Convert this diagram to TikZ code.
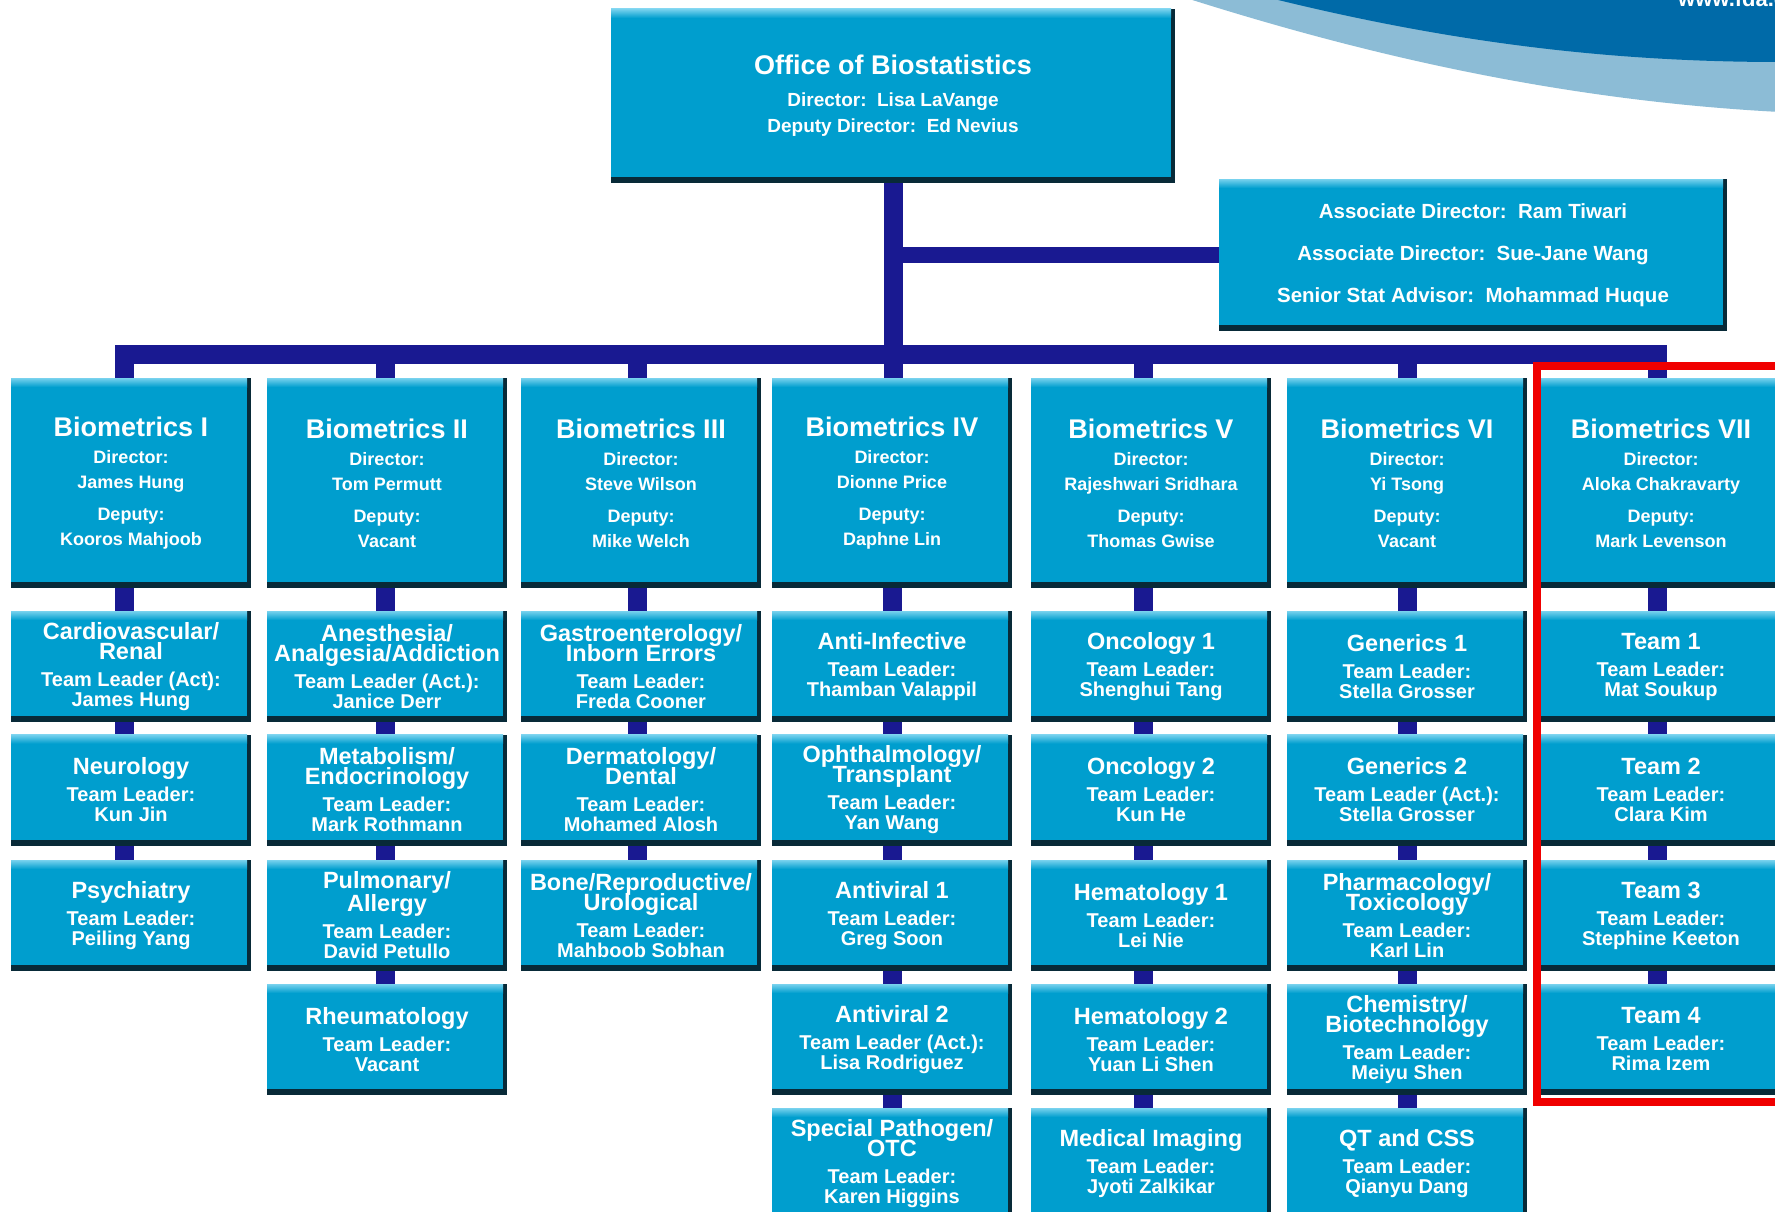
\documentclass[tikz,border=0pt]{standalone}
\usepackage{fontspec}
\setmainfont{Liberation Sans}
\usetikzlibrary{backgrounds}
\definecolor{boxblue}{RGB}{0,158,206}
\definecolor{boxlight}{RGB}{120,210,238}
\definecolor{boxdark}{RGB}{8,42,56}
\definecolor{connblue}{RGB}{25,25,145}
\definecolor{swdark}{RGB}{0,106,168}
\definecolor{swlight}{RGB}{140,188,214}
\definecolor{framered}{RGB}{240,0,0}
\lineskiplimit=-100pt
\newcommand\hdT[1]{{\fontsize{27}{27}\selectfont #1}}
\newcommand\hdS[1]{{\fontsize{23.5}{20}\selectfont #1}}
\tikzset{
  orgbox/.style={rectangle, inner sep=0pt, text=white, align=center, fill=boxdark,
    path picture={
      \fill[boxblue] (path picture bounding box.north west) rectangle ([xshift=-4pt,yshift=6pt]path picture bounding box.south east);
      \fill[top color=boxlight, bottom color=boxblue] (path picture bounding box.north west) rectangle ([xshift=-4pt,yshift=-9pt]path picture bounding box.north east);
    }},
  topbox/.style={orgbox, minimum width=564pt, minimum height=174pt, font=\bfseries\fontsize{19}{26}\selectfont},
  assocbox/.style={orgbox, minimum width=508pt, minimum height=152pt, font=\bfseries\fontsize{20.5}{42}\selectfont},
  biobox/.style={orgbox, minimum width=240pt, minimum height=210pt, font=\bfseries\fontsize{18}{25}\selectfont},
  subbox/.style={orgbox, minimum width=240pt, minimum height=111pt, font=\bfseries\fontsize{20}{20}\selectfont},
  conn/.style={draw=connblue, line width=19pt},
}
\begin{document}
\begin{tikzpicture}[x=1pt,y=-1pt]
\useasboundingbox (0,0) rectangle (1775,1212);

% top
\node[topbox] (top) at (893,96) {\hdT{Office of Biostatistics}\\[6pt] Director:\ \ Lisa LaVange\\ Deputy Director:\ \ Ed Nevius};
\node[assocbox] (assoc) at (1473,255) {Associate Director:\ \ Ram Tiwari\\ Associate Director:\ \ Sue-Jane Wang\\ Senior Stat Advisor:\ \ Mohammad Huque};

% divisions
\node[biobox] (b1) at (131,483) {\hdT{Biometrics I}\\[2pt] Director:\\ James Hung\\[7pt] Deputy:\\ Kooros Mahjoob};
\node[biobox] (b2) at (387,483) {\hdT{Biometrics II}\\[2pt] Director:\\ Tom Permutt\\[7pt] Deputy:\\ Vacant};
\node[biobox] (b3) at (641,483) {\hdT{Biometrics III}\\[2pt] Director:\\ Steve Wilson\\[7pt] Deputy:\\ Mike Welch};
\node[biobox] (b4) at (892,483) {\hdT{Biometrics IV}\\[2pt] Director:\\ Dionne Price\\[7pt] Deputy:\\ Daphne Lin};
\node[biobox] (b5) at (1151,483) {\hdT{Biometrics V}\\[2pt] Director:\\ Rajeshwari Sridhara\\[7pt] Deputy:\\ Thomas Gwise};
\node[biobox] (b6) at (1407,483) {\hdT{Biometrics VI}\\[2pt] Director:\\ Yi Tsong\\[7pt] Deputy:\\ Vacant};
\node[biobox] (b7) at (1661,483) {\hdT{Biometrics VII}\\[2pt] Director:\\ Aloka Chakravarty\\[7pt] Deputy:\\ Mark Levenson};

% column 1
\node[subbox] (s11) at (131,666.5) {\hdS{Cardiovascular/}\\ \hdS{Renal}\\[7pt] Team Leader (Act):\\ James Hung};
\node[subbox] (s12) at (131,790) {\hdS{Neurology}\\[7pt] Team Leader:\\ Kun Jin};
\node[subbox] (s13) at (131,915.5) {\hdS{Psychiatry}\\[7pt] Team Leader:\\ Peiling Yang};
% column 2
\node[subbox] (s21) at (387,666.5) {\hdS{Anesthesia/}\\ \hdS{Analgesia/Addiction}\\[7pt] Team Leader (Act.):\\ Janice Derr};
\node[subbox] (s22) at (387,790) {\hdS{Metabolism/}\\ \hdS{Endocrinology}\\[7pt] Team Leader:\\ Mark Rothmann};
\node[subbox] (s23) at (387,915.5) {\hdS{Pulmonary/}\\[3pt] \hdS{Allergy}\\[7pt] Team Leader:\\ David Petullo};
\node[subbox] (s24) at (387,1039.5) {\hdS{Rheumatology}\\[7pt] Team Leader:\\ Vacant};
% column 3
\node[subbox] (s31) at (641,666.5) {\hdS{Gastroenterology/}\\ \hdS{Inborn Errors}\\[7pt] Team Leader:\\ Freda Cooner};
\node[subbox] (s32) at (641,790) {\hdS{Dermatology/}\\ \hdS{Dental}\\[7pt] Team Leader:\\ Mohamed Alosh};
\node[subbox] (s33) at (641,915.5) {\hdS{Bone/Reproductive/}\\ \hdS{Urological}\\[7pt] Team Leader:\\ Mahboob Sobhan};
% column 4
\node[subbox] (s41) at (892,666.5) {\hdS{Anti-Infective}\\[7pt] Team Leader:\\ Thamban Valappil};
\node[subbox] (s42) at (892,790) {\hdS{Ophthalmology/}\\ \hdS{Transplant}\\[7pt] Team Leader:\\ Yan Wang};
\node[subbox] (s43) at (892,915.5) {\hdS{Antiviral 1}\\[7pt] Team Leader:\\ Greg Soon};
\node[subbox] (s44) at (892,1039.5) {\hdS{Antiviral 2}\\[7pt] Team Leader (Act.):\\ Lisa Rodriguez};
\node[subbox] (s45) at (892,1163.5) {\hdS{Special Pathogen/}\\ \hdS{OTC}\\[7pt] Team Leader:\\ Karen Higgins};
% column 5
\node[subbox] (s51) at (1151,666.5) {\hdS{Oncology 1}\\[7pt] Team Leader:\\ Shenghui Tang};
\node[subbox] (s52) at (1151,790) {\hdS{Oncology 2}\\[7pt] Team Leader:\\ Kun He};
\node[subbox] (s53) at (1151,915.5) {\hdS{Hematology 1}\\[7pt] Team Leader:\\ Lei Nie};
\node[subbox] (s54) at (1151,1039.5) {\hdS{Hematology 2}\\[7pt] Team Leader:\\ Yuan Li Shen};
\node[subbox] (s55) at (1151,1163.5) {\hdS{Medical Imaging}\\[7pt] Team Leader:\\ Jyoti Zalkikar};
% column 6
\node[subbox] (s61) at (1407,666.5) {\hdS{Generics 1}\\[7pt] Team Leader:\\ Stella Grosser};
\node[subbox] (s62) at (1407,790) {\hdS{Generics 2}\\[7pt] Team Leader (Act.):\\ Stella Grosser};
\node[subbox] (s63) at (1407,915.5) {\hdS{Pharmacology/}\\ \hdS{Toxicology}\\[7pt] Team Leader:\\ Karl Lin};
\node[subbox] (s64) at (1407,1039.5) {\hdS{Chemistry/}\\ \hdS{Biotechnology}\\[7pt] Team Leader:\\ Meiyu Shen};
\node[subbox] (s65) at (1407,1163.5) {\hdS{QT and CSS}\\[7pt] Team Leader:\\ Qianyu Dang};
% column 7
\node[subbox] (s71) at (1661,666.5) {\hdS{Team 1}\\[7pt] Team Leader:\\ Mat Soukup};
\node[subbox] (s72) at (1661,790) {\hdS{Team 2}\\[7pt] Team Leader:\\ Clara Kim};
\node[subbox] (s73) at (1661,915.5) {\hdS{Team 3}\\[7pt] Team Leader:\\ Stephine Keeton};
\node[subbox] (s74) at (1661,1039.5) {\hdS{Team 4}\\[7pt] Team Leader:\\ Rima Izem};

\coordinate (bus) at (1657,354);

\begin{pgfonlayer}{background}
  \fill[white] (0,0) rectangle (1775,1212);
  % swoosh
  \fill[swlight] (1186,-2) .. controls (1350,50) and (1550,100) .. (1780,112) -- (1780,-2) -- cycle;
  \fill[swdark] (1270,-2) .. controls (1440,40) and (1600,62) .. (1780,62) -- (1780,-2) -- cycle;
  \node[anchor=base west, text=white, font=\bfseries\fontsize{22}{22}\selectfont, inner sep=0pt] (url) at (1678,7) {www.fda.gov};
  % connectors
  \draw[conn] (top.south) -- (top.south |- b4.north);
  \draw[conn, line width=16pt] (top.south |- assoc.west) -- (assoc.west);
  \draw[conn, line join=miter] ([xshift=-7pt]b1.north) |- (bus) -- ([xshift=-4pt]b7.north);
  \draw[conn] ([xshift=-2pt]b2.north) -- ([xshift=-2pt]b2.north |- bus);
  \draw[conn] ([xshift=-4pt]b3.north) -- ([xshift=-4pt]b3.north |- bus);
  \draw[conn] ([xshift=-8pt]b5.north) -- ([xshift=-8pt]b5.north |- bus);
  \draw[conn] (b6.north) -- (b6.north |- bus);
  \draw[conn] ([xshift=-7pt]b1.south) -- ([xshift=-7pt]s13.north);
  \draw[conn] ([xshift=-2pt]b2.south) -- ([xshift=-2pt]s24.north);
  \draw[conn] ([xshift=-4pt]b3.south) -- ([xshift=-4pt]s33.north);
  \draw[conn] (b4.south) -- (s45.north);
  \draw[conn] ([xshift=-8pt]b5.south) -- ([xshift=-8pt]s55.north);
  \draw[conn] (b6.south) -- (s65.north);
  \draw[conn] ([xshift=-4pt]b7.south) -- ([xshift=-4pt]s74.north);
\end{pgfonlayer}

% highlight frame
\draw[framered, line width=8pt] (1537,366) rectangle (1800,1102);
\end{tikzpicture}
\end{document}
